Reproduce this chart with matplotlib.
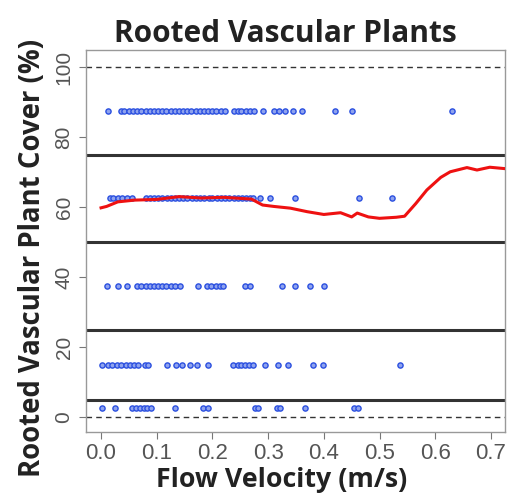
import matplotlib.pyplot as plt

# cover class midpoints and observed flow velocities (m/s)
v_875 = [0.012, 0.035, 0.042, 0.05, 0.057, 0.065, 0.072, 0.08, 0.087, 0.095,
         0.102, 0.11, 0.117, 0.125, 0.132, 0.14, 0.147, 0.155, 0.162, 0.17,
         0.177, 0.185, 0.192, 0.20, 0.207, 0.215, 0.222, 0.238, 0.245, 0.252,
         0.26, 0.268, 0.275, 0.29, 0.31, 0.32, 0.33, 0.345, 0.36, 0.42, 0.45,
         0.63]
v_625 = [0.016, 0.022, 0.03, 0.038, 0.046, 0.056, 0.08, 0.088, 0.095, 0.103,
         0.11, 0.118, 0.125, 0.133, 0.14, 0.148, 0.155, 0.163, 0.17, 0.178,
         0.185, 0.193, 0.20, 0.208, 0.215, 0.223, 0.23, 0.238, 0.245, 0.253,
         0.26, 0.267, 0.273, 0.285, 0.303, 0.348, 0.463, 0.522]
v_375 = [0.011, 0.030, 0.047, 0.065, 0.072, 0.08, 0.087, 0.095, 0.102, 0.11,
         0.117, 0.125, 0.133, 0.142, 0.174, 0.19, 0.198, 0.206, 0.213, 0.219,
         0.259, 0.268, 0.325, 0.348, 0.375, 0.40]
v_15 = [0.002, 0.012, 0.02, 0.028, 0.036, 0.044, 0.052, 0.06, 0.067, 0.079,
        0.084, 0.118, 0.135, 0.145, 0.16, 0.172, 0.192, 0.237, 0.245, 0.252,
        0.259, 0.266, 0.273, 0.294, 0.318, 0.336, 0.381, 0.399, 0.537]
v_25 = [0.002, 0.025, 0.056, 0.063, 0.07, 0.077, 0.083, 0.09, 0.133, 0.183,
        0.192, 0.276, 0.282, 0.316, 0.321, 0.366, 0.455, 0.462]

# smoothed trend (red line)
fit_x = [0.0, 0.01, 0.03, 0.06, 0.10, 0.14, 0.18, 0.22, 0.25, 0.27, 0.29, 0.31,
         0.34, 0.37, 0.40, 0.43, 0.45, 0.46, 0.48, 0.50, 0.53, 0.545, 0.565,
         0.585, 0.61, 0.627, 0.657, 0.675, 0.698, 0.725]
fit_y = [59.8, 60.2, 61.5, 62.0, 62.2, 63.0, 62.6, 62.8, 62.5, 62.3, 60.6, 60.2,
         59.7, 58.7, 57.9, 58.4, 57.2, 58.3, 57.2, 56.8, 57.1, 57.4, 61.0,
         64.9, 68.5, 70.1, 71.3, 70.6, 71.4, 71.0]

cover_levels = [87.5, 62.5, 37.5, 15, 2.5]
class_breaks = [75, 50, 25, 5]

fig = plt.figure(figsize=(5.12, 4.95), dpi=100)
ax = fig.add_axes([0.168, 0.127, 0.818, 0.772])

for lvl, vals in zip(cover_levels, [v_875, v_625, v_375, v_15, v_25]):
    ax.scatter(vals, [lvl] * len(vals), s=14, facecolor='#8fa3ee',
               edgecolor='#2a4fe0', linewidth=1.0, zorder=3)

for b in class_breaks:
    ax.axhline(b, color='#333333', lw=2.2, zorder=2)
for b in [0, 100]:
    ax.axhline(b, color='#333333', lw=1.0, ls=(0, (4, 3)), zorder=2)

ax.plot(fit_x, fit_y, color='#ee1111', lw=2.2, zorder=4)

ax.set_xlim(-0.027, 0.725)
ax.set_ylim(-4.3, 104.9)
ax.set_xticks([0.0, 0.1, 0.2, 0.3, 0.4, 0.5, 0.6, 0.7])
ax.set_xticklabels(['0.0', '0.1', '0.2', '0.3', '0.4', '0.5', '0.6', '0.7'],
                   family='Liberation Sans', fontsize=16)
ax.set_yticks([0, 20, 40, 60, 80, 100])
ax.set_yticklabels(['0', '20', '40', '60', '80', '100'], rotation=90,
                   va='center', family='Liberation Sans', fontsize=15)
ax.tick_params(colors='#777777', length=5, width=0.8)
ax.tick_params(axis='x', labelcolor='#555555', pad=3)
ax.tick_params(axis='y', labelcolor='#555555', pad=4)
for s in ax.spines.values():
    s.set_color('#999999')
    s.set_linewidth(1.0)

ax.set_xlabel('Flow Velocity (m/s)', fontsize=19.3, fontweight='bold',
              family='Open Sans', color='#222222')
ax.xaxis.set_label_coords(0.467, -0.09)
ax.set_ylabel('Rooted Vascular Plant Cover (%)', fontsize=19.8, fontweight='bold',
              family='Open Sans', color='#222222')
ax.yaxis.set_label_coords(-0.092, 0.455)
ax.set_title('Rooted Vascular Plants', fontsize=21.5, fontweight='bold',
             family='Open Sans', color='#222222', pad=6, x=0.476)

plt.savefig('out.png', dpi=100)
